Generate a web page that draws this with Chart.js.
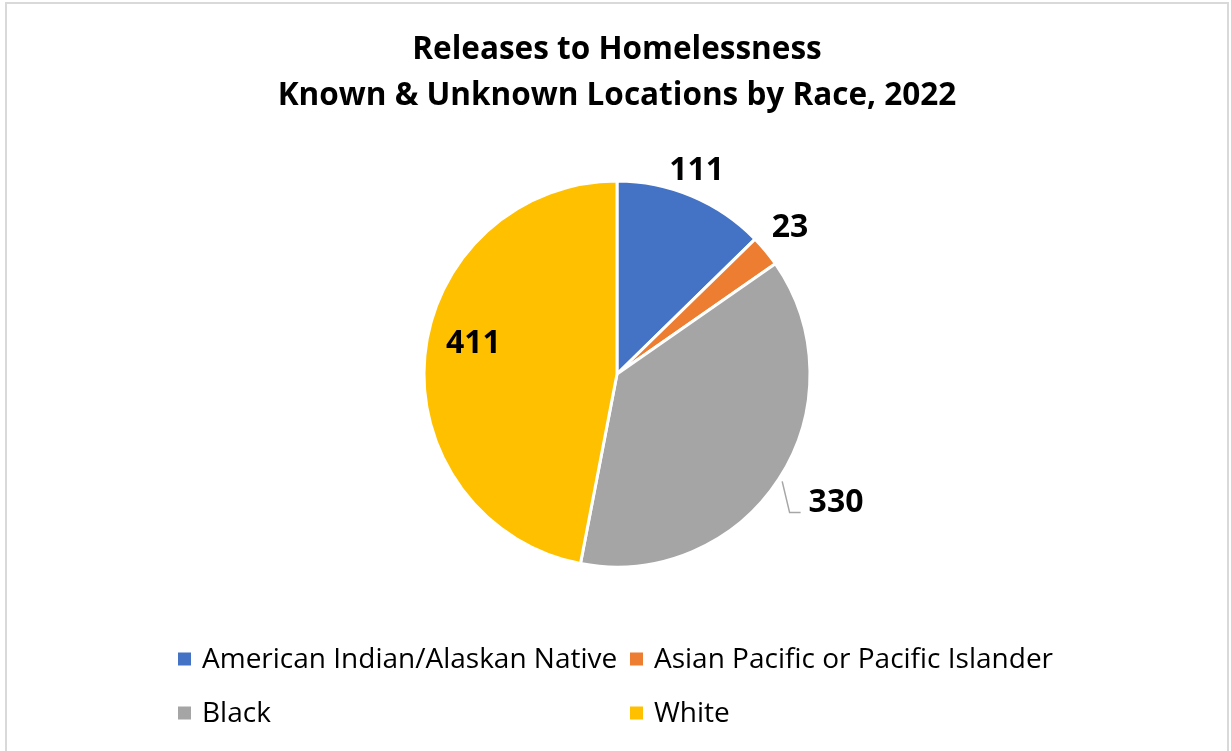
<!DOCTYPE html>
<html>
<head>
<meta charset="utf-8">
<title>Releases to Homelessness</title>
<script src="https://cdn.jsdelivr.net/npm/chart.js@4"></script>
<style>
  html, body { margin: 0; padding: 0; background: #fff; overflow: hidden; }
  #frame {
    position: absolute; left: 5px; top: 2px; width: 1220px; height: 770px;
    border: 2px solid #d9d9d9; box-sizing: content-box; pointer-events: none;
  }
  #wrap { position: absolute; left: 0; top: 0; width: 1231px; height: 751px; }
</style>
</head>
<body>
<div id="wrap"><canvas id="pie"></canvas></div>
<div id="frame"></div>
<script>
const titleLines = ['Releases to Homelessness', 'Known & Unknown Locations by Race, 2022'];
const races = ['American Indian/Alaskan Native', 'Asian Pacific or Pacific Islander', 'Black', 'White'];
const releases = [111, 23, 330, 411];
const sliceColors = ['#4472C4', '#ED7D31', '#A5A5A5', '#FFC000'];

const FONT = '"Open Sans", Lato, sans-serif';

// where each value label sits: distance from centre, nudge in degrees off the slice middle
const labelPlace = [
    { r: 220, shift: -1.6, leader: false },
    { r: 228, shift: -1, leader: false },
    { r: 253, shift: -3, leader: true },
    { r: 147, shift: 7, leader: false }
];

// title drawn centred over the pie
const titlePlugin = {
    id: 'twoLineTitle',
    afterDraw(chart) {
        const ctx = chart.ctx;
        ctx.save();
        ctx.fillStyle = '#000';
        ctx.font = `bold 31.5px ${FONT}`;
        ctx.textAlign = 'center';
        ctx.textBaseline = 'middle';
        ctx.fillText(titleLines[0], 617, 50);
        ctx.fillText(titleLines[1], 617, 96);
        ctx.restore();
    }
};

// value labels; the Black slice gets pushed out with a leader line
const valueLabels = {
    id: 'valueLabels',
    afterDatasetsDraw(chart) {
        const ctx = chart.ctx;
        const arcs = chart.getDatasetMeta(0).data;
        ctx.save();
        ctx.font = `bold 32px ${FONT}`;
        ctx.textAlign = 'center';
        ctx.textBaseline = 'middle';
        arcs.forEach((arc, i) => {
            const p = labelPlace[i];
            const mid = (arc.startAngle + arc.endAngle) / 2;
            const ang = mid + p.shift * Math.PI / 180;
            const x = arc.x + Math.cos(ang) * p.r;
            const y = arc.y + Math.sin(ang) * p.r;
            const text = String(chart.data.datasets[0].data[i]);
            if (p.leader) {
                const w = ctx.measureText(text).width;
                const sx = arc.x + Math.cos(mid) * (arc.outerRadius + 4);
                const sy = arc.y + Math.sin(mid) * (arc.outerRadius + 4);
                const cx = x - w / 2 - 19;
                const cy = y + 12;
                ctx.strokeStyle = '#A6A6A6';
                ctx.lineWidth = 1.5;
                ctx.beginPath();
                ctx.moveTo(sx, sy);
                ctx.lineTo(cx, cy);
                ctx.lineTo(cx + 11, cy);
                ctx.stroke();
            }
            ctx.fillStyle = '#000';
            ctx.fillText(text, x, y + 2);
        });
        ctx.restore();
    }
};

// two-column legend under the pie
const gridLegend = {
    id: 'gridLegend',
    afterDraw(chart) {
        const ctx = chart.ctx;
        const colX = [178, 630];
        const rowY = [659, 713];
        ctx.save();
        ctx.font = `28px ${FONT}`;
        ctx.textAlign = 'left';
        ctx.textBaseline = 'middle';
        chart.data.labels.forEach((label, i) => {
            const x = colX[i % 2];
            const y = rowY[Math.floor(i / 2)];
            ctx.fillStyle = sliceColors[i];
            ctx.fillRect(x, y - 6.5, 13, 13);
            ctx.fillStyle = '#000';
            ctx.fillText(label, x + 24, y + 1);
        });
        ctx.restore();
    }
};

new Chart(document.getElementById('pie'), {
    type: 'pie',
    data: {
        labels: races,
        datasets: [{
            data: releases,
            backgroundColor: sliceColors,
            borderColor: '#ffffff',
            borderWidth: 3
        }]
    },
    options: {
        responsive: true,
        maintainAspectRatio: false,
        animation: false,
        radius: 193,
        layout: { padding: { left: 424, right: 421, top: 181, bottom: 184 } },
        plugins: {
            legend: { display: false },
            title: { display: false },
            tooltip: { enabled: false }
        }
    },
    plugins: [titlePlugin, valueLabels, gridLegend]
});
</script>
</body>
</html>
